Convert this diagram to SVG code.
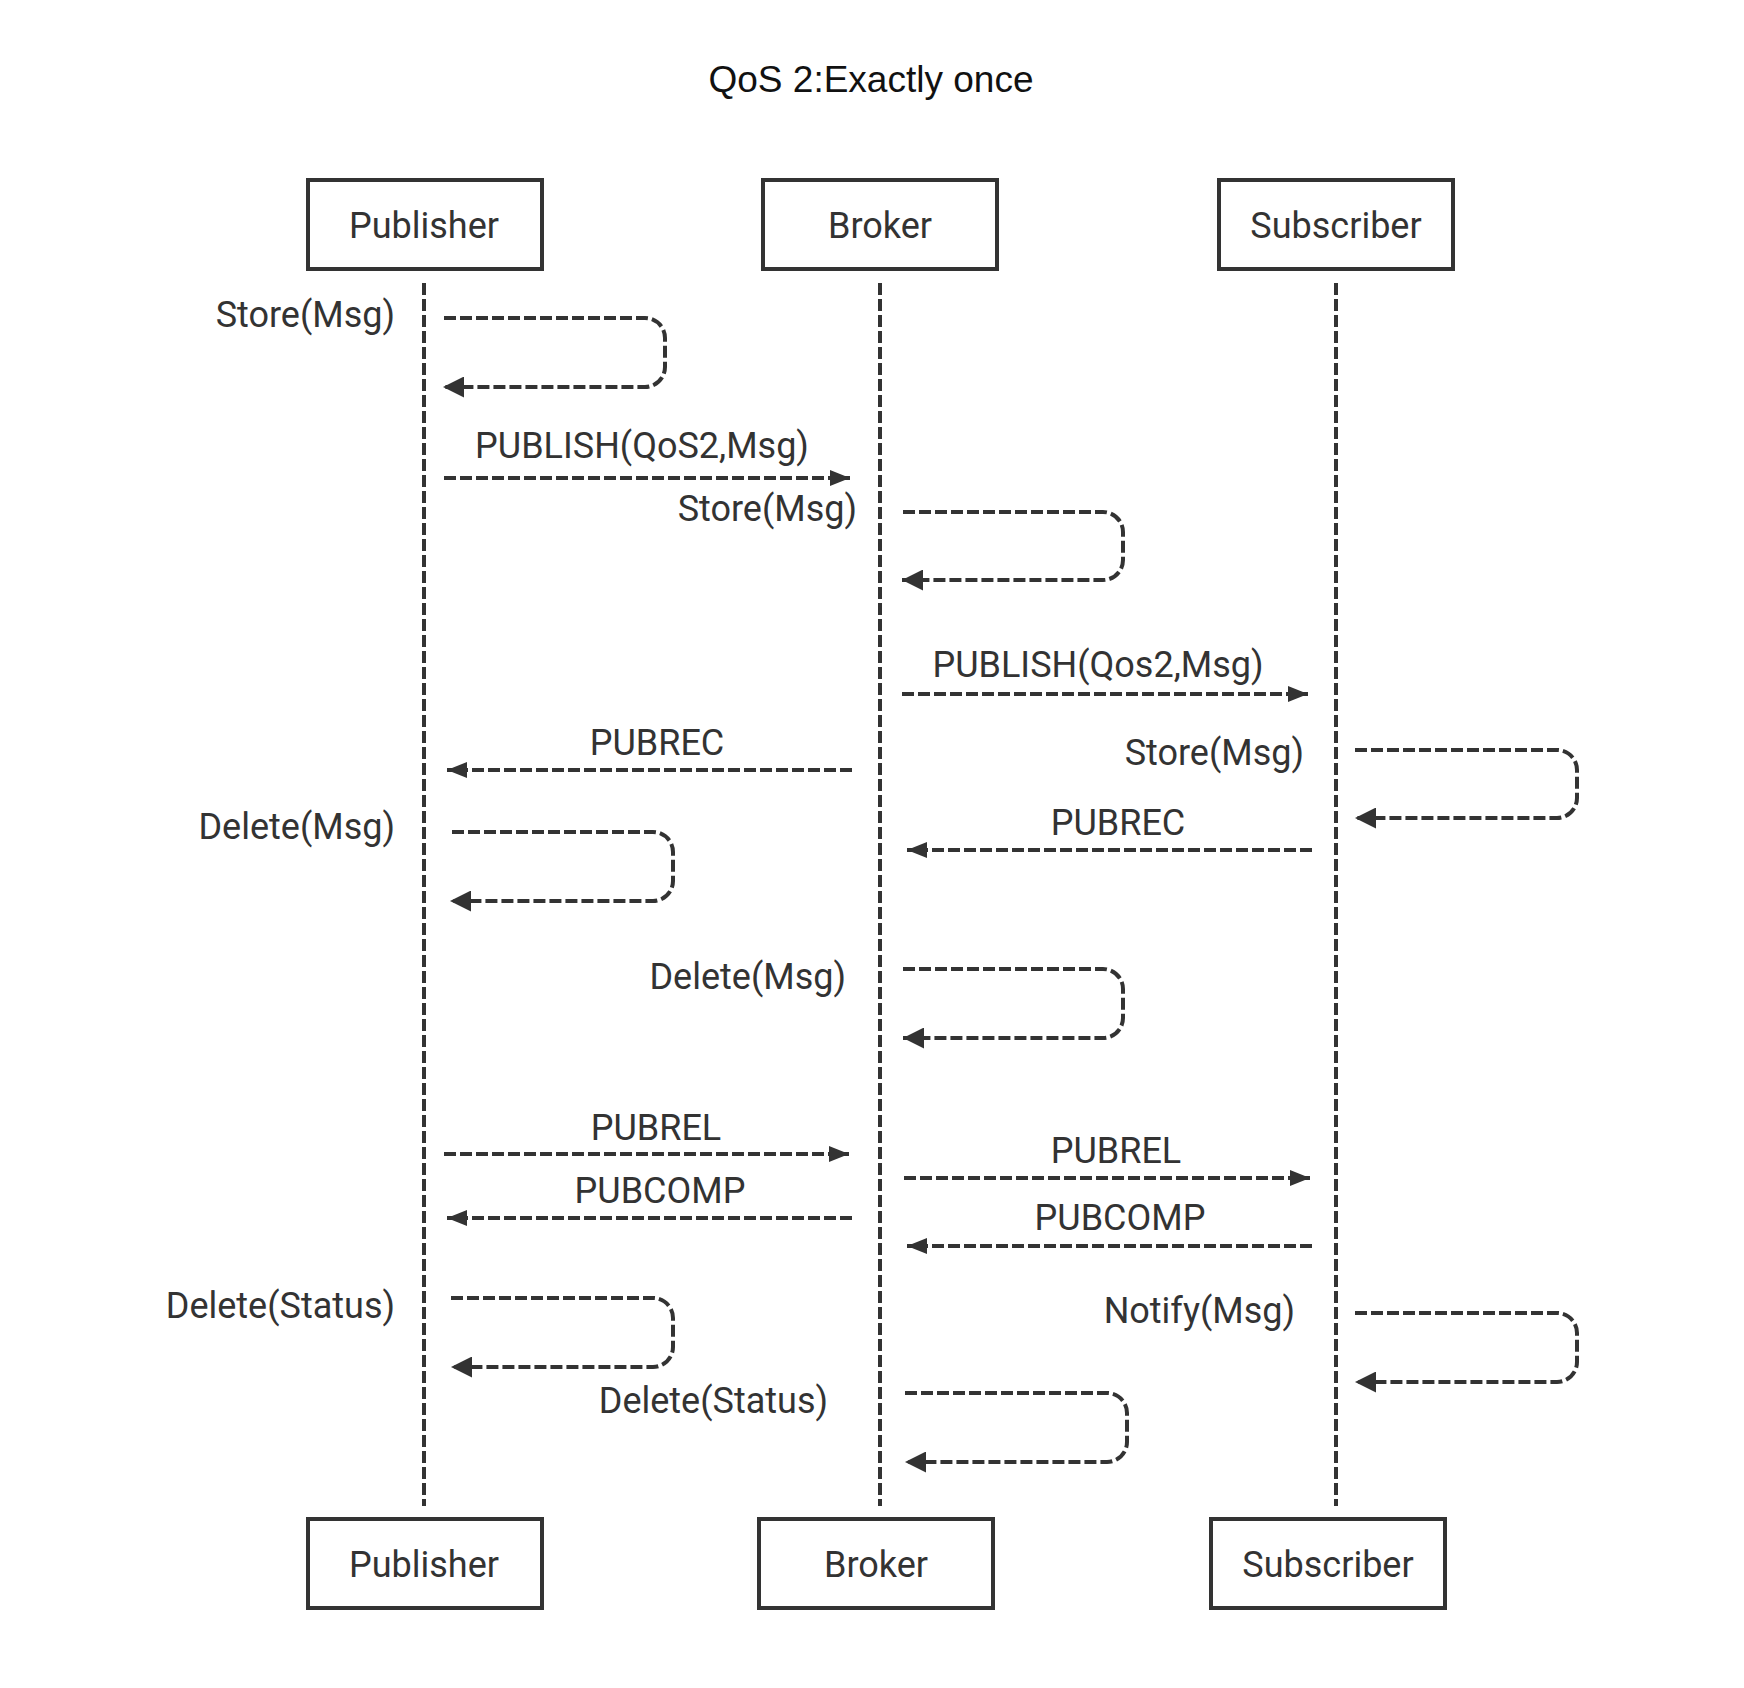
<svg xmlns="http://www.w3.org/2000/svg" width="1744" height="1688" viewBox="0 0 1744 1688">
<style>
.t{font-family:Roboto,"Liberation Sans",sans-serif;font-size:36px;fill:#333}
.title{font-family:"Liberation Sans",Arial,sans-serif;font-size:37px;fill:#111}
.box{fill:#fff;stroke:#333;stroke-width:4}
.life{fill:none;stroke:#333;stroke-width:4;stroke-dasharray:12 4}
.msg{fill:none;stroke:#333;stroke-width:4;stroke-dasharray:12 4;marker-end:url(#ah)}
.loop{fill:none;stroke:#333;stroke-width:4;stroke-dasharray:12 4;marker-end:url(#lh)}
.c{text-anchor:middle}
.r{text-anchor:end}
</style>
<defs>
<marker id="ah" markerUnits="userSpaceOnUse" markerWidth="20" markerHeight="16" refX="20" refY="8" orient="auto"><path d="M0,0 L20,8 L0,16 Z" fill="#333"/></marker>
<marker id="lh" markerUnits="userSpaceOnUse" markerWidth="21" markerHeight="21" refX="21" refY="10.5" orient="auto"><path d="M0,0 L21,10.5 L0,21 Z" fill="#333"/></marker>
</defs>
<rect width="1744" height="1688" fill="#fff"/>
<text class="title c" x="871" y="92">QoS 2:Exactly once</text>

<g id="lifelines">
<line class="life" x1="424" y1="283" x2="424" y2="1506"/>
<line class="life" x1="880" y1="283" x2="880" y2="1506"/>
<line class="life" x1="1336" y1="283" x2="1336" y2="1506"/>
</g>

<g id="publisher-top"><rect class="box" x="308" y="180" width="234" height="89"/><text class="t c" x="424" y="238">Publisher</text></g>
<g id="broker-top"><rect class="box" x="763" y="180" width="234" height="89"/><text class="t c" x="880" y="238">Broker</text></g>
<g id="subscriber-top"><rect class="box" x="1219" y="180" width="234" height="89"/><text class="t c" x="1336" y="238">Subscriber</text></g>
<g id="publisher-bottom"><rect class="box" x="308" y="1519" width="234" height="89"/><text class="t c" x="424" y="1577">Publisher</text></g>
<g id="broker-bottom"><rect class="box" x="759" y="1519" width="234" height="89"/><text class="t c" x="876" y="1577">Broker</text></g>
<g id="subscriber-bottom"><rect class="box" x="1211" y="1519" width="234" height="89"/><text class="t c" x="1328" y="1577">Subscriber</text></g>

<g id="connectors">
<path class="loop" d="M444,318 H645 A20,20 0 0 1 665,338 V367 A20,20 0 0 1 645,387 H443"/>
<path class="msg" d="M444,478 H850"/>
<path class="loop" d="M903,512 H1103 A20,20 0 0 1 1123,532 V560 A20,20 0 0 1 1103,580 H902"/>
<path class="msg" d="M902,694 H1308"/>
<path class="msg" d="M852,770 H447"/>
<path class="loop" d="M1355,750 H1557 A20,20 0 0 1 1577,770 V798 A20,20 0 0 1 1557,818 H1355"/>
<path class="loop" d="M452,832 H653 A20,20 0 0 1 673,852 V881 A20,20 0 0 1 653,901 H450"/>
<path class="msg" d="M1312,850 H907"/>
<path class="loop" d="M903,969 H1103 A20,20 0 0 1 1123,989 V1018 A20,20 0 0 1 1103,1038 H903"/>
<path class="msg" d="M444,1154 H849"/>
<path class="msg" d="M904,1178 H1310"/>
<path class="msg" d="M852,1218 H447"/>
<path class="msg" d="M1312,1246 H907"/>
<path class="loop" d="M451,1298 H653 A20,20 0 0 1 673,1318 V1347 A20,20 0 0 1 653,1367 H451"/>
<path class="loop" d="M1355,1313 H1557 A20,20 0 0 1 1577,1333 V1362 A20,20 0 0 1 1557,1382 H1355"/>
<path class="loop" d="M905,1393 H1107 A20,20 0 0 1 1127,1413 V1442 A20,20 0 0 1 1107,1462 H905"/>
</g>

<g id="labels">
<text class="t r" x="395" y="327">Store(Msg)</text>
<text class="t c" x="642" y="458">PUBLISH(QoS2,Msg)</text>
<text class="t r" x="857" y="521">Store(Msg)</text>
<text class="t c" x="1098" y="677">PUBLISH(Qos2,Msg)</text>
<text class="t c" x="657" y="755">PUBREC</text>
<text class="t r" x="1304" y="765">Store(Msg)</text>
<text class="t r" x="395" y="839">Delete(Msg)</text>
<text class="t c" x="1118" y="835">PUBREC</text>
<text class="t r" x="846" y="989">Delete(Msg)</text>
<text class="t c" x="656" y="1140">PUBREL</text>
<text class="t c" x="1116" y="1163">PUBREL</text>
<text class="t c" x="660" y="1203">PUBCOMP</text>
<text class="t c" x="1120" y="1230">PUBCOMP</text>
<text class="t r" x="395" y="1318">Delete(Status)</text>
<text class="t r" x="1295" y="1323">Notify(Msg)</text>
<text class="t r" x="828" y="1413">Delete(Status)</text>
</g>
</svg>
